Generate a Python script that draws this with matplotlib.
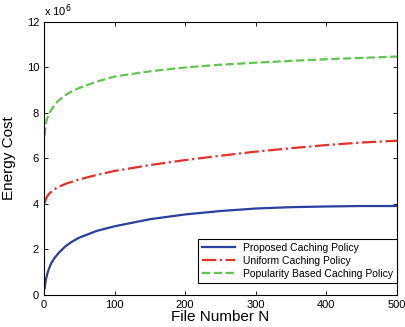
import matplotlib.pyplot as plt

plt.rcParams['font.family'] = ['Liberation Sans', 'DejaVu Sans']

# file number N
n_files = [1, 2, 3, 5, 7, 10, 15, 20, 30, 40, 50, 75, 100, 150, 200, 250, 300, 350, 400, 450, 500]
# energy cost, in units of 1e6
proposed = [0.3, 0.55, 0.72, 0.97, 1.15, 1.38, 1.63, 1.82, 2.13, 2.35, 2.52, 2.82, 3.02, 3.33, 3.54,
            3.69, 3.8, 3.86, 3.89, 3.91, 3.91]
uniform = [4.03, 4.15, 4.24, 4.36, 4.44, 4.53, 4.65, 4.74, 4.88, 4.98, 5.08, 5.28, 5.45, 5.71, 5.93,
           6.12, 6.3, 6.45, 6.59, 6.7, 6.78]
popularity = [7.0, 7.35, 7.58, 7.8, 7.95, 8.12, 8.35, 8.53, 8.78, 8.96, 9.1, 9.38, 9.6, 9.83, 10.0,
              10.12, 10.21, 10.29, 10.36, 10.42, 10.48]

fig = plt.figure(figsize=(4.05, 3.27), dpi=100)
ax = fig.add_axes([0.1086, 0.0979, 0.8716, 0.835])

ax.plot(n_files, proposed, color='#2b3f9c', lw=1.6, label='Proposed Caching Policy')
ax.plot(n_files, uniform, color='#e2332b', lw=1.6, ls='-.', label='Uniform Caching Policy')
ax.plot(n_files, popularity, color='#5dc64d', lw=1.6, ls='--', label='Popularity Based Caching Policy')

ax.set_xlim(0, 500)
ax.set_ylim(0, 12)
ax.set_xticks([0, 100, 200, 300, 400, 500])
ax.set_yticks([0, 2, 4, 6, 8, 10, 12])
ax.tick_params(direction='in', top=True, right=True, labelsize=8, length=3, width=0.6)
for s in ax.spines.values():
    s.set_linewidth(0.8)
ax.text(0, 1.01, r'x 10$^6$', transform=ax.transAxes, fontsize=8, va='bottom', ha='left')

ax.set_xlabel('File Number N', fontsize=11, labelpad=0)
ax.set_ylabel('Energy Cost', fontsize=11, labelpad=8)

leg = ax.legend(loc='lower right', bbox_to_anchor=(1.0, 0.045), borderaxespad=0,
                fontsize=7.5, fancybox=False, edgecolor='black', framealpha=1,
                handlelength=3.2, labelspacing=0.3, borderpad=0.35)
leg.get_frame().set_linewidth(0.8)

plt.savefig('out.png', dpi=100)
